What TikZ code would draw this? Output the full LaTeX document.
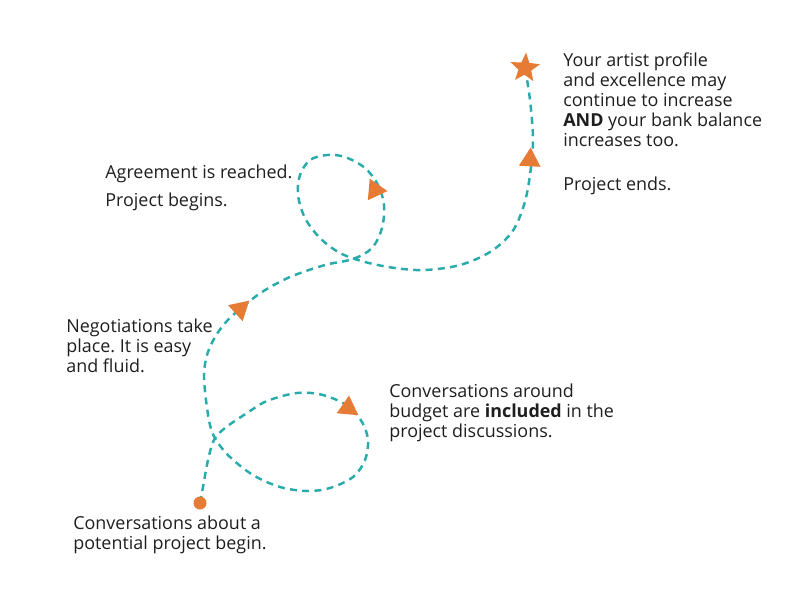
\documentclass[tikz,border=0pt]{standalone}
\usepackage{fontspec}
\setmainfont{Open Sans}
\usetikzlibrary{shapes.geometric}
\definecolor{trailteal}{HTML}{2AABAB}
\definecolor{markorange}{HTML}{E57B35}
\definecolor{inktext}{HTML}{1E1E1E}
\frenchspacing
\begin{document}
\begin{tikzpicture}[x=0.02cm, y=-0.02cm,
  note/.style={anchor=west, align=left, inner sep=0pt, text=inktext, font=\fontsize{10.2}{11.4}\selectfont},
  trail/.style={trailteal, line width=1.4pt, dash pattern=on 4pt off 3pt},
  tipmark/.style={fill=markorange, regular polygon, regular polygon sides=3, minimum size=0.5cm, inner sep=0pt},
  dotmark/.style={fill=markorange, circle, minimum size=0.26cm, inner sep=0pt},
  starmark/.style={fill=markorange, star, star points=5, star point ratio=2.3, minimum size=0.62cm, inner sep=0pt}]
\useasboundingbox (0,0) rectangle (800,600);
\coordinate (start) at (200,503);
\coordinate (finish) at (525,68);
% the winding trail
\draw[trail] plot[smooth, tension=0.55] coordinates {(start) (203,487) (208,460) (214,440) (225,428) (247,413) (267,401) (297,393) (323,395) (348,406) (362,422) (368,440) (365,460) (353,477) (330,488) (307,491) (280,487) (253,475) (230,457) (216,440) (210,425) (206,400) (204,375) (207,355) (215,337) (226,322) (240,309) (262,292) (290,277) (325,265) (353,259) (372,248) (382,228) (384,205) (378,185) (365,168) (345,157) (327,155) (310,160) (300,175) (298,195) (305,218) (320,238) (340,253) (365,262) (395,268) (425,270) (460,265) (490,252) (512,232) (524,205) (530,175) (533,140) (530,100) (finish)};
\node[dotmark] (dot) at (start) {};
\node[starmark, rotate=-4] (goal) at (finish) {};
\node[tipmark, rotate=-125] (tip1) at (348,408) {};
\node[tipmark, rotate=-48] (tip2) at (240,309) {};
\node[tipmark, rotate=-95] (tip3) at (375,190) {};
\node[tipmark, rotate=-3] (tip4) at (530,160) {};
% the notes
\node[note] (begin) at (73,535) {Conversations about a\\potential project begin.};
\node[note] (budget) at (389,413) {Conversations around\\budget are \textbf{included} in the\\project discussions.};
\node[note] (talks) at (66,346) {Negotiations take\\place. It is easy\\and fluid.};
\node[note] (agree) at (105,188) {Agreement is reached.\\[4.5pt]Project begins.};
\node[note] (profile) at (563,100) {Your artist profile\\and excellence may\\continue to increase\\\textbf{AND} your bank balance\\increases too.};
\node[note] (ends) at (563,186) {Project ends.};
\end{tikzpicture}
\end{document}
